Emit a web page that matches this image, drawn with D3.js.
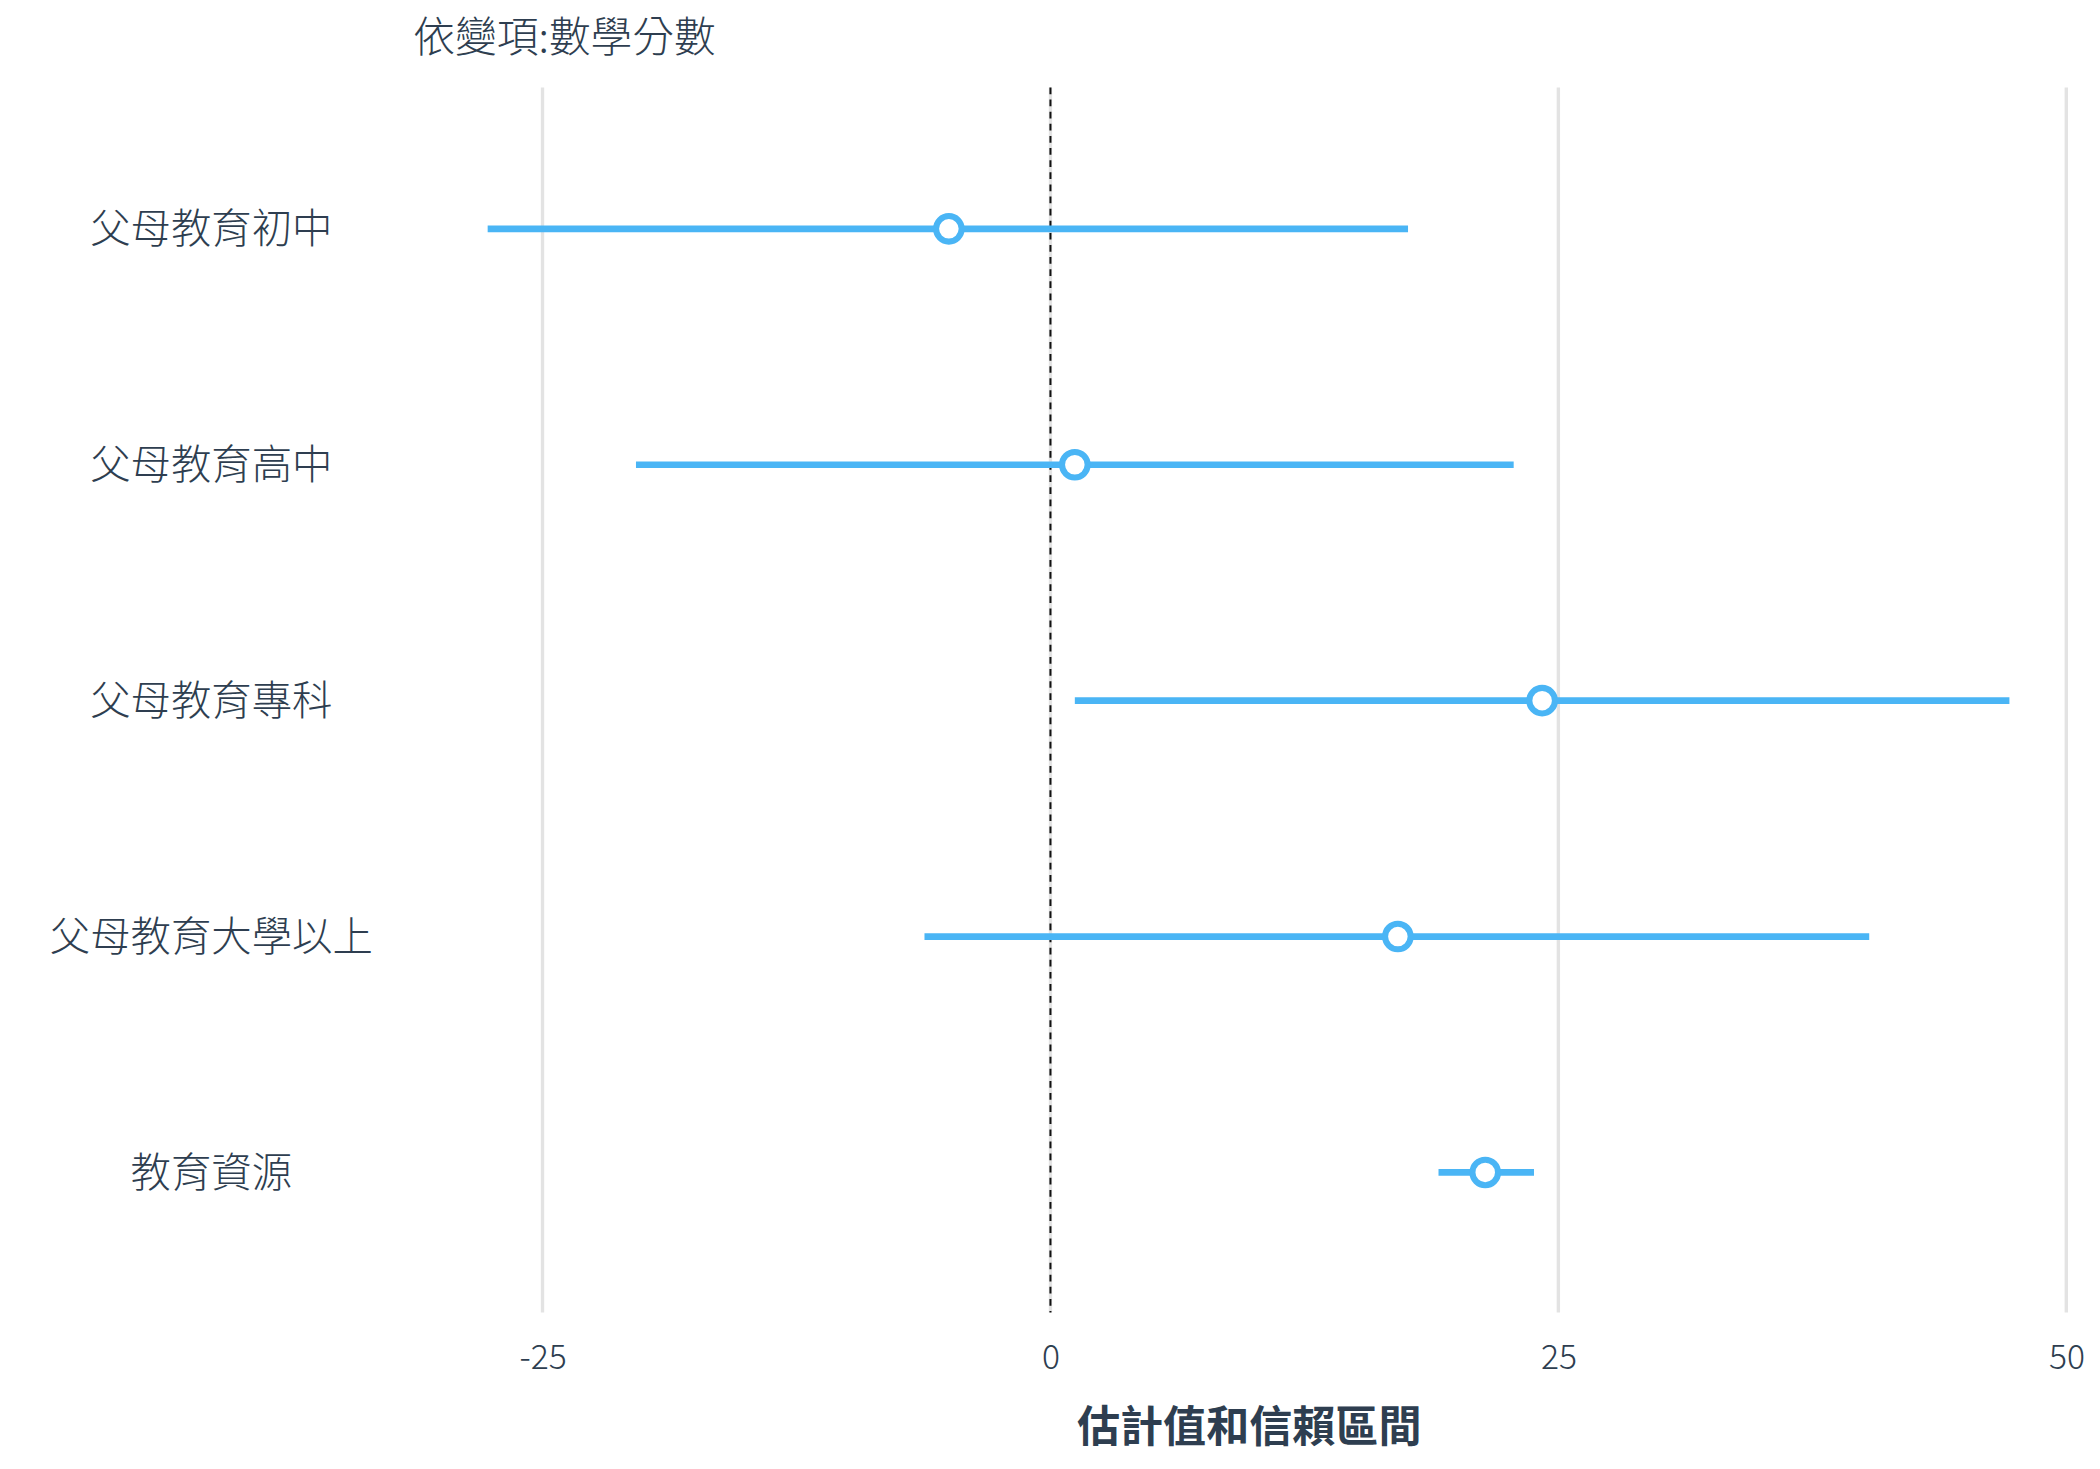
<!DOCTYPE html>
<html><head><meta charset="utf-8">
<script src="https://cdn.jsdelivr.net/npm/d3@7"></script>
<style>body{margin:0;background:#fff}</style>
</head><body>
<svg id="chart" width="2100" height="1469" viewBox="0 0 1560 1091.3"></svg>
<script>
// values
const terms = ["父母教育初中", "父母教育高中", "父母教育專科", "父母教育大學以上", "教育資源"]
const estimate = [-5.0, 1.2, 24.2, 17.1, 21.4]
const lower = [-27.7, -20.4, 1.2, -6.2, 19.1]
const upper = [17.6, 22.8, 47.2, 40.3, 23.8]
const ticks = [-25, 0, 25, 50]

const rows = terms.map((t, i) => ({term: t, est: estimate[i], lo: lower[i], hi: upper[i]}))
const svg = d3.select("#chart")
const font = "'Noto Sans CJK TC', 'Noto Sans', sans-serif"
const textCol = "#2e3e50"
const blue = "#4ab5f5"

const x = d3.scaleLinear().domain([-25, 50]).range([403, 1535])
const y = d3.scalePoint().domain(terms).range([170, 871])

// grid
svg.selectAll(".grid").data(ticks).enter().append("line")
    .attr("x1", d => x(d)).attr("x2", d => x(d))
    .attr("y1", 65).attr("y2", 975)
    .attr("stroke", "#e3e3e3").attr("stroke-width", 2.5)

svg.append("line")
    .attr("x1", x(0)).attr("x2", x(0)).attr("y1", 65).attr("y2", 975)
    .attr("stroke", "#111").attr("stroke-width", 1.5).attr("stroke-dasharray", "5,4")

// tick labels via axis
const ax = svg.append("g").attr("transform", "translate(0,996)")
    .call(d3.axisBottom(x).tickValues(ticks).tickSize(0).tickPadding(0).tickFormat(d => String(d)))
ax.select(".domain").remove()
ax.selectAll("text").attr("font-family", font).attr("font-size", 25).attr("font-weight", 300)
    .attr("fill", textCol).attr("dy", "0.85em")

// intervals
svg.selectAll(".ci").data(rows).enter().append("line")
    .attr("x1", d => x(d.lo)).attr("x2", d => x(d.hi))
    .attr("y1", d => y(d.term)).attr("y2", d => y(d.term))
    .attr("stroke", blue).attr("stroke-width", 5)

svg.selectAll(".pt").data(rows).enter().append("circle")
    .attr("cx", d => x(d.est)).attr("cy", d => y(d.term)).attr("r", 9.5)
    .attr("fill", "#fff").attr("stroke", blue).attr("stroke-width", 4.5)

// category labels
svg.selectAll(".lab").data(rows).enter().append("text")
    .attr("x", 157).attr("y", d => y(d.term)).attr("dy", "0.36em")
    .attr("text-anchor", "middle").attr("font-family", font).attr("font-size", 30).attr("font-weight", 300)
    .attr("fill", textCol).text(d => d.term)

svg.append("text").attr("x", 307).attr("y", 39).attr("font-family", font)
    .attr("font-size", 31).attr("font-weight", 300).attr("fill", textCol).text("依變項:數學分數")

svg.append("text").attr("x", 928).attr("y", 1071).attr("text-anchor", "middle")
    .attr("font-family", font).attr("font-size", 32).attr("font-weight", "bold")
    .attr("fill", textCol).text("估計值和信賴區間")
</script>
</body></html>
